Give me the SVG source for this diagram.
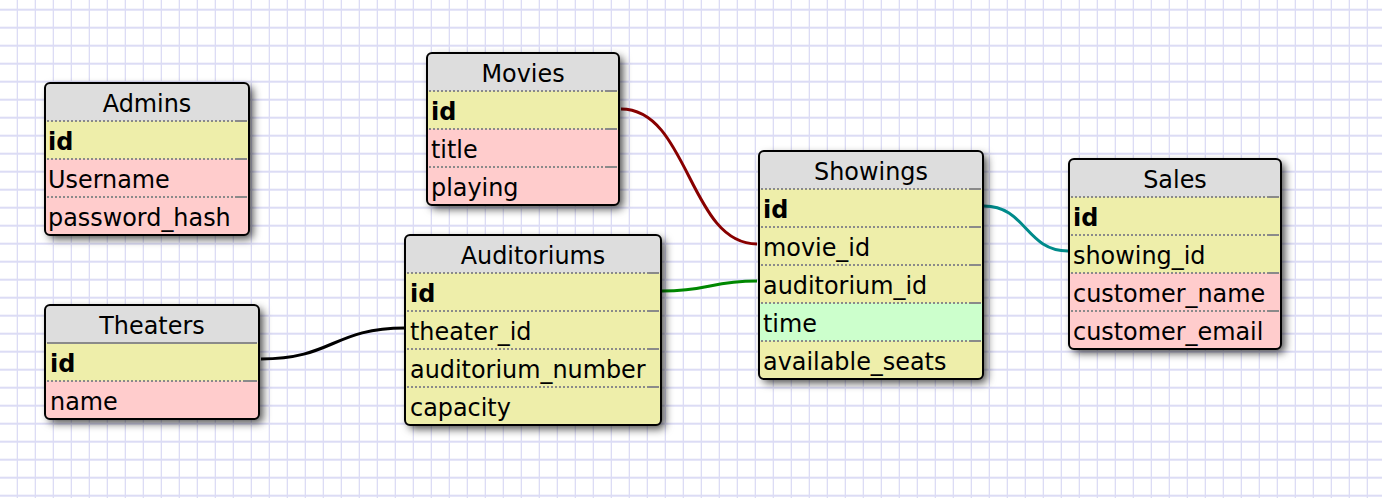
<svg xmlns="http://www.w3.org/2000/svg" width="1382" height="498" viewBox="0 0 1382 498">
<style>
text{font-family:"DejaVu Sans","Verdana",sans-serif;font-size:23.9px;fill:#000}
.t{text-anchor:middle}
.b{font-weight:bold}
.hd{fill:#dddddd}
.y{fill:#eeeeaa}
.p{fill:#ffcccc}
.g{fill:#ccffcc}
.bg{fill:#dddddd;filter:url(#sh)}
.bd{fill:none;stroke:#000;stroke-width:2}
.dot{stroke:#8a8a8a;stroke-width:2;stroke-dasharray:2 2}
.sol{stroke:#8a8a8a;stroke-width:2}
.c{fill:none;stroke-width:3}
</style>
<defs>
<pattern id="grid" width="18" height="18" patternUnits="userSpaceOnUse">
<rect width="18" height="18" fill="#fff"/>
<rect x="16.7" y="0" width="2" height="18" fill="#dcdcf5"/>
<rect x="0" y="8.7" width="18" height="2" fill="#dcdcf5"/>
</pattern>
<filter id="sh" x="-10%" y="-10%" width="130%" height="130%">
<feDropShadow dx="4" dy="4" stdDeviation="4" flood-color="#000" flood-opacity="0.7"/>
</filter>
<clipPath id="cA"><rect width="204" height="152" rx="5"/></clipPath>
<clipPath id="cM"><rect width="192" height="152" rx="5"/></clipPath>
<clipPath id="cS"><rect width="224" height="228" rx="5"/></clipPath>
<clipPath id="cSa"><rect width="212" height="190" rx="5"/></clipPath>
<clipPath id="cAu"><rect width="256" height="190" rx="5"/></clipPath>
<clipPath id="cT"><rect width="214" height="114" rx="5"/></clipPath>
</defs>
<rect width="1382" height="498" fill="url(#grid)"/>

<g id="connectors">
<path class="c" stroke="#880000" d="M621,109 C689,109 689,244 757,244"/>
<path class="c" stroke="#008800" d="M662,291 C710,291 710,281 757,281"/>
<path class="c" stroke="#000000" d="M261,359 C333,359 333,328 405,328"/>
<path class="c" stroke="#008b8b" d="M984,206 C1026,206 1026,251 1068,251"/>
</g>

<g id="admins" transform="translate(45,83)">
<rect class="bg" width="204" height="152" rx="5"/>
<g clip-path="url(#cA)">
<rect class="hd" width="204" height="38"/>
<rect class="y" y="38" width="204" height="38"/>
<rect class="p" y="76" width="204" height="76"/>
</g>
<line class="dot" x1="2" y1="38" x2="190" y2="38"/><line class="sol" x1="190" y1="38" x2="202" y2="38"/>
<line class="dot" x1="2" y1="76" x2="190" y2="76"/><line class="sol" x1="190" y1="76" x2="202" y2="76"/>
<line class="dot" x1="2" y1="114" x2="190" y2="114"/><line class="sol" x1="190" y1="114" x2="202" y2="114"/>
<text class="t" x="102" y="29">Admins</text>
<text class="b" x="3" y="67">id</text>
<text x="3" y="105">Username</text>
<text x="3" y="143">password_hash</text>
<rect class="bd" width="204" height="152" rx="5"/>
</g>

<g id="movies" transform="translate(427,53)">
<rect class="bg" width="192" height="152" rx="5"/>
<g clip-path="url(#cM)">
<rect class="hd" width="192" height="38"/>
<rect class="y" y="38" width="192" height="38"/>
<rect class="p" y="76" width="192" height="76"/>
</g>
<line class="dot" x1="2" y1="38" x2="178" y2="38"/><line class="sol" x1="178" y1="38" x2="190" y2="38"/>
<line class="dot" x1="2" y1="76" x2="178" y2="76"/><line class="sol" x1="178" y1="76" x2="190" y2="76"/>
<line class="dot" x1="2" y1="114" x2="178" y2="114"/><line class="sol" x1="178" y1="114" x2="190" y2="114"/>
<text class="t" x="96" y="29">Movies</text>
<text class="b" x="4" y="67">id</text>
<text x="4" y="105">title</text>
<text x="4" y="143">playing</text>
<rect class="bd" width="192" height="152" rx="5"/>
</g>

<g id="showings" transform="translate(759,151)">
<rect class="bg" width="224" height="228" rx="5"/>
<g clip-path="url(#cS)">
<rect class="hd" width="224" height="38"/>
<rect class="y" y="38" width="224" height="114"/>
<rect class="g" y="152" width="224" height="38"/>
<rect class="y" y="190" width="224" height="38"/>
</g>
<line class="dot" x1="2" y1="38" x2="210" y2="38"/><line class="sol" x1="210" y1="38" x2="222" y2="38"/>
<line class="dot" x1="2" y1="76" x2="210" y2="76"/><line class="sol" x1="210" y1="76" x2="222" y2="76"/>
<line class="dot" x1="2" y1="114" x2="210" y2="114"/><line class="sol" x1="210" y1="114" x2="222" y2="114"/>
<line class="dot" x1="2" y1="152" x2="210" y2="152"/><line class="sol" x1="210" y1="152" x2="222" y2="152"/>
<line class="dot" x1="2" y1="190" x2="210" y2="190"/><line class="sol" x1="210" y1="190" x2="222" y2="190"/>
<text class="t" x="112" y="29">Showings</text>
<text class="b" x="4" y="67">id</text>
<text x="4" y="105">movie_id</text>
<text x="4" y="143">auditorium_id</text>
<text x="4" y="181">time</text>
<text x="4" y="219">available_seats</text>
<rect class="bd" width="224" height="228" rx="5"/>
</g>

<g id="sales" transform="translate(1069,159)">
<rect class="bg" width="212" height="190" rx="5"/>
<g clip-path="url(#cSa)">
<rect class="hd" width="212" height="38"/>
<rect class="y" y="38" width="212" height="76"/>
<rect class="p" y="114" width="212" height="76"/>
</g>
<line class="dot" x1="2" y1="38" x2="198" y2="38"/><line class="sol" x1="198" y1="38" x2="210" y2="38"/>
<line class="dot" x1="2" y1="76" x2="198" y2="76"/><line class="sol" x1="198" y1="76" x2="210" y2="76"/>
<line class="dot" x1="2" y1="114" x2="198" y2="114"/><line class="sol" x1="198" y1="114" x2="210" y2="114"/>
<line class="dot" x1="2" y1="152" x2="198" y2="152"/><line class="sol" x1="198" y1="152" x2="210" y2="152"/>
<text class="t" x="106" y="29">Sales</text>
<text class="b" x="4" y="67">id</text>
<text x="4" y="105">showing_id</text>
<text x="4" y="143">customer_name</text>
<text x="4" y="181">customer_email</text>
<rect class="bd" width="212" height="190" rx="5"/>
</g>

<g id="auditoriums" transform="translate(405,235)">
<rect class="bg" width="256" height="190" rx="5"/>
<g clip-path="url(#cAu)">
<rect class="hd" width="256" height="38"/>
<rect class="y" y="38" width="256" height="152"/>
</g>
<line class="dot" x1="2" y1="38" x2="242" y2="38"/><line class="sol" x1="242" y1="38" x2="254" y2="38"/>
<line class="dot" x1="2" y1="76" x2="242" y2="76"/><line class="sol" x1="242" y1="76" x2="254" y2="76"/>
<line class="dot" x1="2" y1="114" x2="242" y2="114"/><line class="sol" x1="242" y1="114" x2="254" y2="114"/>
<line class="dot" x1="2" y1="152" x2="242" y2="152"/><line class="sol" x1="242" y1="152" x2="254" y2="152"/>
<text class="t" x="128" y="29">Auditoriums</text>
<text class="b" x="5" y="67">id</text>
<text x="5" y="105">theater_id</text>
<text x="5" y="143">auditorium_number</text>
<text x="5" y="181">capacity</text>
<rect class="bd" width="256" height="190" rx="5"/>
</g>

<g id="theaters" transform="translate(45,305)">
<rect class="bg" width="214" height="114" rx="5"/>
<g clip-path="url(#cT)">
<rect class="hd" width="214" height="38"/>
<rect class="y" y="38" width="214" height="38"/>
<rect class="p" y="76" width="214" height="38"/>
</g>
<line class="sol" x1="2" y1="38" x2="212" y2="38"/>
<line class="dot" x1="2" y1="76" x2="200" y2="76"/><line class="sol" x1="200" y1="76" x2="212" y2="76"/>
<text class="t" x="107" y="29">Theaters</text>
<text class="b" x="5" y="67">id</text>
<text x="5" y="105">name</text>
<rect class="bd" width="214" height="114" rx="5"/>
</g>
</svg>
